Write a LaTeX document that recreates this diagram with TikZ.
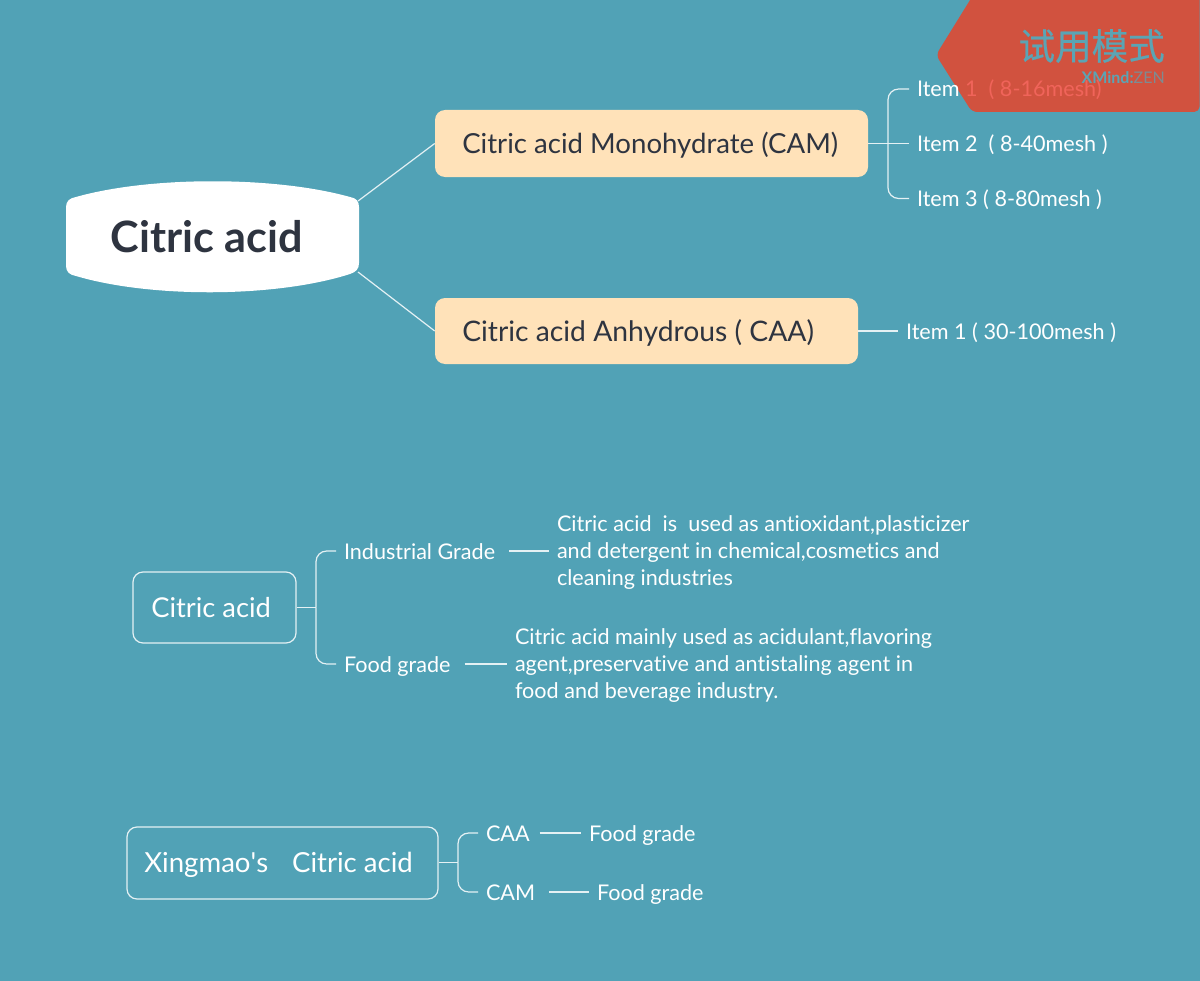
\documentclass[tikz,border=0pt]{standalone}
\usepackage{fontspec}
\setmainfont[Ligatures={NoCommon}]{Lato}
\newfontfamily\plainlato{Lato}
\newfontfamily\cjk[FakeBold=0.5]{Noto Sans CJK SC}
\definecolor{bgc}{HTML}{51A2B6}
\definecolor{peach}{HTML}{FFE2B9}
\definecolor{ink}{HTML}{2E3440}
\definecolor{redc}{HTML}{D1523F}
\definecolor{salmon}{HTML}{F0645A}
\definecolor{wmtext}{HTML}{5BA4B4}
\definecolor{linec}{HTML}{E4F1F4}
\tikzset{
  x=0.75pt,y=-0.75pt,
  link/.style={draw=linec,line width=0.9pt},
  elbow/.style={link,rounded corners=8pt},
  peachbox/.style={fill=peach,rounded corners=7.5pt},
  outlinebox/.style={draw=linec,line width=0.9pt,rounded corners=7.5pt},
  lab/.style={anchor=west,inner sep=0pt,outer xsep=6pt,text=white,font=\fontsize{16.2}{20.25}\selectfont},
  onelab/.style={lab,text height=14pt,text depth=2pt},
  biglab/.style={anchor=west,inner sep=0pt,text height=18.7pt,text depth=3pt,font=\fontsize{20.7}{24}\selectfont},
  gapa/.style={shorten <=4.5pt},
  gapb/.style={shorten <=1.5pt},
}
\begin{document}
\begin{tikzpicture}
\useasboundingbox (0,0) rectangle (1200,981);
\fill[bgc] (0,0) rectangle (1200,981);

% central topic
\fill[white] (66,207) .. controls (66,201) and (70,198) .. (76,197)
  .. controls (150,176) and (275,176) .. (350,197)
  .. controls (356,198) and (359,201) .. (359,207)
  -- (359,263) .. controls (359,269) and (356,272) .. (350,274)
  .. controls (275,298) and (150,298) .. (76,276)
  .. controls (70,275) and (66,272) .. (66,266) -- cycle;
\node[inner sep=0pt,text=ink,font=\fontsize{32.4}{36}\selectfont\bfseries] (main) at (207,237) {Citric acid};
\coordinate (mainNE) at (358,201);
\coordinate (mainSE) at (358,272);

% main branches
\node[peachbox,minimum width=433*0.75pt,minimum height=67*0.75pt,inner sep=0pt] (cam) at (651.5,143.5) {};
\node[biglab,text=ink] (camt) at (462,143.5) {Citric acid Monohydrate (CAM)};
\node[peachbox,minimum width=423*0.75pt,minimum height=66*0.75pt,inner sep=0pt] (caa) at (646.5,331) {};
\node[biglab,text=ink,font=\fontsize{21.2}{24}\selectfont] (caat) at (462,331) {Citric acid Anhydrous ( CAA)};
\draw[link] (mainNE) -- (cam.west);
\draw[link] (mainSE) -- (caa.west);

% watermark
\fill[redc,rounded corners=4pt] (1199.5,-8) -- (975,-8) -- (936,55) -- (972,112) -- (1199.5,112) -- cycle;
\node[inner sep=0pt,anchor=east,text=wmtext,font=\fontsize{27.4}{30}\cjk] (wm) at (1165,46) {试用模式};
\node[inner sep=0pt,anchor=east,font=\fontsize{12}{12}\selectfont] (wmz) at (1165,78) {\textcolor{wmtext}{\bfseries XMind:}\textcolor{wmtext!70!redc}{ZEN}};

% items of CAM
\node[onelab] (i1) at (909,89) {Item \textcolor{salmon}{1\ \ ( 8-16mesh)}};
\node[onelab] (i2) at (909,143.5) {Item 2\ \ ( 8-40mesh )};
\node[onelab] (i3) at (909,198.5) {Item 3 ( 8-80mesh )};
\coordinate (t1) at (888,143.5);
\draw[link] (cam.east) -- (i2.west);
\draw[elbow] (t1) |- (i1.west);
\draw[elbow] (t1) |- (i3.west);

% item of CAA
\node[onelab] (j1) at (898,331) {Item 1 ( 30-100mesh )};
\draw[link] (caa.east) -- (j1.west);

% grade section
\node[outlinebox,minimum width=163*0.75pt,minimum height=71*0.75pt,inner sep=0pt] (ca) at (214.5,607.5) {};
\node[biglab,text=white,font=\fontsize{20.5}{24}\selectfont] (cat) at (151,607.5) {Citric acid};
\coordinate (t2) at (316,607.5);
\node[onelab] (ig) at (336,551) {Industrial Grade};
\node[onelab] (fg) at (336,664) {Food grade};
\draw[link] (ca.east) -- (t2);
\draw[elbow] (t2) |- (ig.west);
\draw[elbow] (t2) |- (fg.west);
\node[lab,align=left] (igd) at (549,553) {Citric acid\ \ is\ \ used as antioxidant,plasticizer\\and detergent in chemical,cosmetics and\\cleaning industries};
\node[lab,align=left] (fgd) at (507,666) {Citric acid mainly used as acidulant,flavoring\\agent,preservative and antistaling agent in\\food and beverage industry.};
\draw[link,gapa] (ig.east) -- (ig.east -| igd.west);
\draw[link,gapa] (fg.east) -- (fg.east -| fgd.west);

% Xingmao section
\node[outlinebox,minimum width=311*0.75pt,minimum height=72*0.75pt,inner sep=0pt] (xm) at (282.5,863) {};
\node[biglab,text=white] (xmt) at (144,862.5) {Xingmao{\plainlato\symbol{39}}s\ \ \ \hspace{2pt}Citric acid};
\coordinate (t3) at (458,862.5);
\node[onelab] (xa) at (478,833) {CAA};
\node[onelab] (xc) at (478,892) {CAM};
\draw[link] (xm.east |- t3) -- (t3);
\draw[elbow] (t3) |- (xa.west);
\draw[elbow] (t3) |- (xc.west);
\node[onelab] (xaf) at (581,833) {Food grade};
\node[onelab] (xcf) at (589,892) {Food grade};
\draw[link,gapb] (xa.east) -- (xaf.west);
\draw[link,gapa] (xc.east) -- (xcf.west);
\end{tikzpicture}
\end{document}
